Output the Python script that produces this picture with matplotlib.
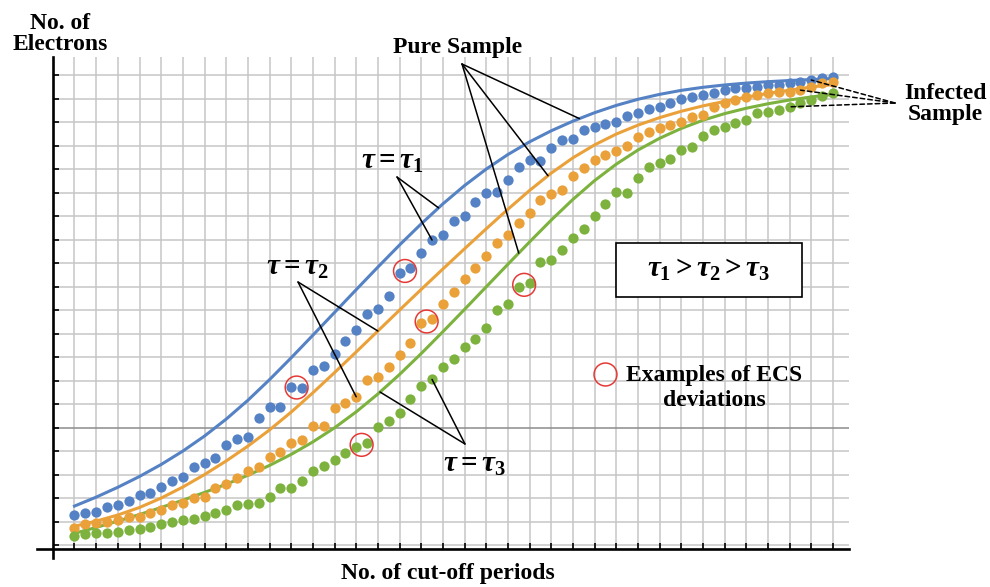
import numpy as np
import matplotlib.pyplot as plt
from matplotlib.patches import Rectangle

plt.rcParams['font.family'] = ['Liberation Serif', 'DejaVu Serif']
plt.rcParams['mathtext.fontset'] = 'custom'
plt.rcParams['mathtext.rm'] = 'Liberation Serif:bold'
plt.rcParams['mathtext.it'] = 'Liberation Serif:italic:bold'
plt.rcParams['mathtext.bf'] = 'Liberation Serif:bold'

W, H = 990, 587

# x in grid units: solid curves at every grid line, dots every half grid
x_line = np.arange(36)
x_dots = np.arange(71) * 0.5

# pure sample (solid curves)
blue_line = [1.66, 2.04, 2.46, 2.92, 3.43, 4.0, 4.64, 5.36, 6.16, 7.04, 7.97, 8.93,
             9.9, 10.87, 11.83, 12.77, 13.67, 14.52, 15.3, 16.0, 16.62, 17.16,
             17.63, 18.04, 18.4, 18.71, 18.97, 19.18, 19.35, 19.48, 19.58, 19.66,
             19.72, 19.77, 19.81, 19.85]
orange_line = [0.8, 1.02, 1.28, 1.6, 2.0, 2.47, 3.0, 3.58, 4.21, 4.9, 5.66, 6.48,
               7.34, 8.22, 9.11, 10.0, 10.88, 11.75, 12.61, 13.46, 14.29, 15.09,
               15.83, 16.48, 17.03, 17.49, 17.87, 18.19, 18.46, 18.69, 18.88,
               19.06, 19.22, 19.36, 19.49, 19.6]
green_line = [0.5, 0.75, 1.02, 1.3, 1.6, 1.91, 2.24, 2.59, 2.97, 3.39, 3.86, 4.39,
              4.99, 5.67, 6.43, 7.26, 8.15, 9.08, 10.03, 10.99, 11.95, 12.9, 13.83,
              14.71, 15.51, 16.21, 16.81, 17.31, 17.73, 18.08, 18.36, 18.59, 18.78,
              18.94, 19.07, 19.18]

# infected sample (dots)
blue_dots = [1.28, 1.37, 1.42, 1.63, 1.69, 1.89, 2.13, 2.2, 2.48, 2.72, 2.91,
             3.31, 3.5, 3.72, 4.26, 4.52, 4.61, 5.42, 5.86, 5.86, 6.74, 6.67,
             7.45, 7.62, 8.13, 8.69, 9.15, 9.83, 10.03, 10.61, 11.56, 11.77,
             12.41, 12.98, 13.19, 13.8, 14.0, 14.61, 15.0, 15.03, 15.53, 16.1,
             16.38, 16.35, 16.88, 17.23, 17.26, 17.66, 17.8, 17.94, 18.01, 18.26,
             18.37, 18.54, 18.63, 18.8, 18.97, 19.05, 19.15, 19.22, 19.36, 19.43,
             19.43, 19.5, 19.57, 19.57, 19.65, 19.72, 19.79, 19.86, 19.93]
orange_dots = [0.71, 0.89, 0.92, 0.99, 1.06, 1.18, 1.2, 1.35, 1.49, 1.7, 1.77,
               1.99, 2.03, 2.41, 2.62, 2.84, 3.16, 3.33, 3.73, 3.97, 4.35, 4.47,
               5.05, 5.05, 5.82, 6.06, 6.31, 7.02, 7.16, 7.59, 8.09, 8.58, 9.43,
               9.6, 10.26, 10.78, 11.31, 11.77, 12.3, 12.86, 13.19, 13.71, 14.12,
               14.7, 14.96, 15.13, 15.7, 16.03, 16.38, 16.6, 16.78, 16.98, 17.37,
               17.59, 17.73, 17.87, 18.01, 18.23, 18.3, 18.65, 18.82, 18.94,
               19.08, 19.15, 19.22, 19.29, 19.29, 19.36, 19.5, 19.65, 19.71]
green_dots = [0.38, 0.47, 0.5, 0.52, 0.57, 0.64, 0.67, 0.75, 0.89, 0.99, 1.06,
              1.13, 1.23, 1.35, 1.49, 1.7, 1.74, 1.8, 2.03, 2.41, 2.45, 2.74,
              3.16, 3.36, 3.62, 3.9, 4.18, 4.35, 5.03, 5.29, 5.6, 6.2, 6.77, 7.05,
              7.59, 7.9, 8.44, 8.79, 9.22, 10.0, 10.28, 10.99, 11.16, 12.05,
              12.15, 12.55, 13.05, 13.43, 14.0, 14.51, 15.03, 14.99, 15.6, 16.1,
              16.24, 16.45, 16.81, 16.95, 17.4, 17.66, 17.8, 17.97, 18.09, 18.37,
              18.44, 18.51, 18.65, 18.82, 18.94, 19.11, 19.22]

# circled ECS deviations: (series, first dot, second dot)
deviations = [('blue', 20, 21), ('blue', 30, 31), ('orange', 32, 33),
              ('green', 26, 27), ('green', 41, 42)]

colors = {'blue': '#5582C4', 'orange': '#EBA13A', 'green': '#7DB23F'}
lines = {'blue': blue_line, 'orange': orange_line, 'green': green_line}
dots = {'blue': blue_dots, 'orange': orange_dots, 'green': green_dots}

fig = plt.figure(figsize=(W / 100, H / 100), dpi=100)


def fx(px):
    return px / W


def fy(py):
    return 1 - py / H


ax = fig.add_axes([fx(37), fy(558), fx(849) - fx(37), fy(57) - fy(558)])
ax.set_xlim(-1.73, 35.74)
ax.set_ylim(-0.55, 20.77)

# 网格
ax.vlines(x_line, -0.17, 20.77, colors='#c6c6c6', lw=1.1, zorder=0)
grid_y = np.arange(21)
grid_col = ['#8c8c8c' if g == 5 else '#c6c6c6' for g in grid_y]
ax.hlines(grid_y, -1, 35.74, colors=grid_col, lw=1.1, zorder=0)

for s in ['top', 'right']:
    ax.spines[s].set_visible(False)
ax.spines['left'].set_position(('data', -1))
ax.spines['bottom'].set_position(('data', -0.17))
for s in ['left', 'bottom']:
    ax.spines[s].set_linewidth(1.9)
ax.set_xticks(x_line)
ax.set_yticks(grid_y)
ax.tick_params(direction='in', length=4, width=1.2,
               labelleft=False, labelbottom=False)

for name in ['blue', 'orange', 'green']:
    ax.plot(x_line, lines[name], color=colors[name], lw=2.2, zorder=2)
    ax.plot(x_dots, dots[name], 'o', ms=7.4, color=colors[name], mec='none', zorder=3)

# 红圈
for name, a, b in deviations:
    cx = (x_dots[a] + x_dots[b]) / 2
    cy = (dots[name][a] + dots[name][b]) / 2
    ax.scatter([cx], [cy], s=270, facecolors='none', edgecolors='#E53935',
               linewidths=1.1, zorder=4)


def pointer(xy, apex, ls='-'):
    ax.annotate('', xy=xy, xycoords='data', xytext=(apex[0], H - apex[1]),
                textcoords='figure pixels',
                arrowprops=dict(arrowstyle='-', color='black', lw=1.1,
                                ls=ls, shrinkA=0, shrinkB=0), zorder=5)


# Pure Sample
pointer((23.3, np.interp(23.3, x_line, blue_line)), (462, 64))
pointer((21.85, np.interp(21.85, x_line, orange_line)), (462, 64))
pointer((20.5, np.interp(20.5, x_line, green_line)), (462, 64))
# tau labels
pointer((16.8, np.interp(16.8, x_line, blue_line)), (397, 177))
pointer((x_dots[33], blue_dots[33]), (397, 177))
pointer((14.0, np.interp(14.0, x_line, orange_line)), (298, 282))
pointer((x_dots[26], orange_dots[26]), (298, 282))
pointer((14.1, np.interp(14.1, x_line, green_line)), (465, 444))
pointer((x_dots[33], green_dots[33]), (465, 444))
# Infected Sample
pointer((x_dots[68], blue_dots[68]), (895, 103), ls=(0, (3, 2)))
pointer((x_dots[67], orange_dots[67]), (895, 103), ls=(0, (3, 2)))
pointer((x_dots[66], green_dots[66]), (895, 103), ls=(0, (3, 2)))

fs = 17
fm = 21
fig.text(fx(458), fy(47), 'Pure Sample', ha='center', va='center',
         fontsize=fs, fontweight='bold')
fig.text(fx(945), fy(104), 'Infected\nSample', ha='center', va='center',
         fontsize=fs, fontweight='bold', linespacing=1.05)
fig.text(fx(60), fy(34), 'No. of\nElectrons', ha='center', va='center',
         fontsize=fs, fontweight='bold', linespacing=1.0)
fig.text(fx(448), fy(573), 'No. of cut-off periods', ha='center', va='center',
         fontsize=fs, fontweight='bold')

fig.text(fx(392), fy(162), r'$\tau = \tau_1$', ha='center', va='center', fontsize=fm)
fig.text(fx(297), fy(268), r'$\tau = \tau_2$', ha='center', va='center', fontsize=fm)
fig.text(fx(475), fy(465), r'$\tau = \tau_3$', ha='center', va='center', fontsize=fm)

# 方框
fig.patches.append(Rectangle((fx(616), fy(297)), fx(802) - fx(616), fy(243) - fy(297),
                             transform=fig.transFigure, fill=True, facecolor='white',
                             edgecolor='black', lw=1.2, zorder=6))
fig.text(fx(709), fy(270), r'$\tau_1 > \tau_2 > \tau_3$', ha='center', va='center',
         fontsize=fm, zorder=7)

# 图例
fig.lines.append(plt.Line2D([fx(605)], [fy(374)], marker='o', ms=16.5, mfc='none',
                            mec='#E53935', mew=1.1, transform=fig.transFigure))
fig.text(fx(714), fy(375), 'Examples of ECS', ha='center', va='center',
         fontsize=fs, fontweight='bold')
fig.text(fx(714), fy(400), 'deviations', ha='center', va='center',
         fontsize=fs, fontweight='bold')

fig.savefig('out.png', dpi=100)
